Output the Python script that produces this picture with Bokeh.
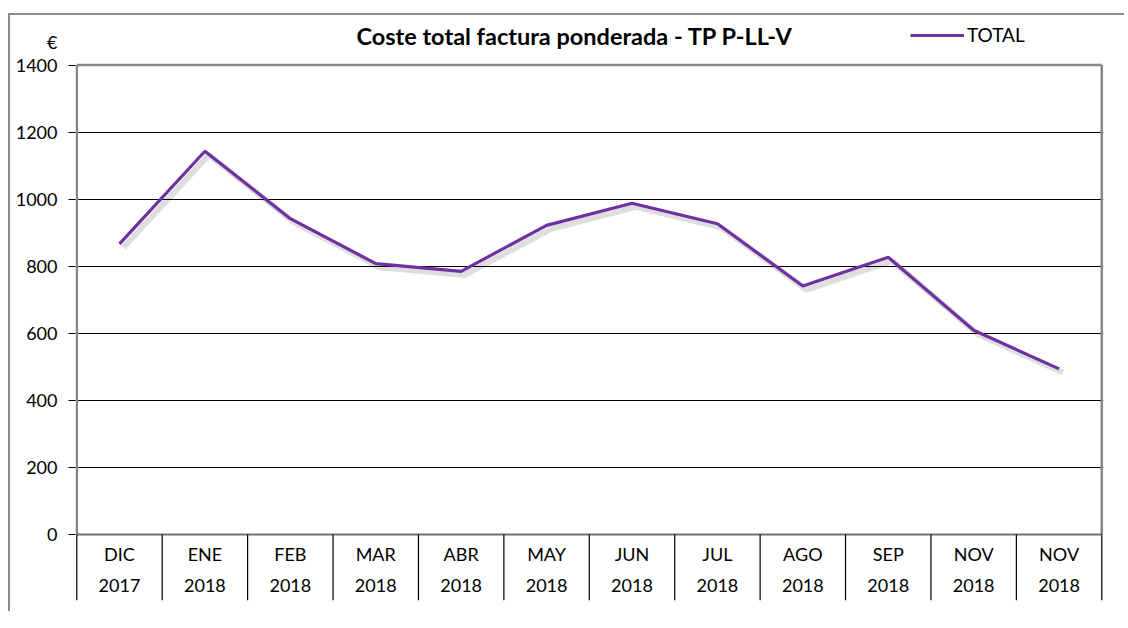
from bokeh.plotting import figure
from bokeh.models import (Range1d, FixedTicker, Label, Legend, LegendItem,
                          ColumnDataSource)
from bokeh.transform import dodge
from bokeh.core.properties import value
from bokeh.embed import file_html
from bokeh.resources import INLINE

# ---- data ----
months = ["DIC", "ENE", "FEB", "MAR", "ABR", "MAY", "JUN", "JUL", "AGO", "SEP", "NOV", "NOV"]
years = ["2017", "2018", "2018", "2018", "2018", "2018", "2018", "2018", "2018", "2018", "2018", "2018"]
total = [867, 1143, 942, 808, 785, 922, 988, 927, 741, 827, 609, 494]
y_ticks = [0, 200, 400, 600, 800, 1000, 1200, 1400]
title_text = "Coste total factura ponderada - TP P-LL-V"
series_name = "TOTAL"
unit_label = "€"

FONT = "Lato"
PURPLE = "#7030A0"
GRAY = "#868686"

n = len(months)
xs = [i + 0.5 for i in range(n)]
src = ColumnDataSource(dict(x=xs, total=total, month=months, year=years))

p = figure(width=1116, height=598, output_backend="svg", toolbar_location=None,
           x_range=Range1d(-0.015, n + 0.02), y_range=Range1d(-197, 1548),
           min_border_left=65, min_border_right=23, min_border_top=0,
           min_border_bottom=13, outline_line_color=None)
p.styles = {"margin-left": "8px", "margin-top": "13px",
            "border-left": "2px solid #8c8c8c", "border-top": "2px solid #8c8c8c"}

p.xaxis.visible = False
p.xgrid.visible = False

unit_pos = 1468
yax = p.yaxis[0]
yax.ticker = FixedTicker(ticks=y_ticks + [unit_pos], minor_ticks=y_ticks)
yax.major_label_overrides = {unit_pos: unit_label}
yax.axis_line_color = None
yax.major_tick_line_color = None
yax.major_tick_in = 0
yax.major_tick_out = 0
yax.minor_tick_in = 0
yax.minor_tick_out = 7
yax.minor_tick_line_color = "#000000"
yax.major_label_text_font = FONT
yax.major_label_text_font_size = "18px"
yax.major_label_text_color = "#000000"
yax.major_label_standoff = 11

p.ygrid.ticker = FixedTicker(ticks=y_ticks[1:-1])
p.ygrid.grid_line_color = "#000000"
p.ygrid.grid_line_width = 1

# frame borders and axis lines
top = y_ticks[-1]
p.segment(x0=[0], y0=[top], x1=[n], y1=[top], line_color=GRAY, line_width=2.5)
p.segment(x0=[n], y0=[0], x1=[n], y1=[top], line_color=GRAY, line_width=2.5)
p.segment(x0=[0], y0=[0], x1=[0], y1=[top], line_color=GRAY, line_width=2.5)
p.segment(x0=[0], y0=[0], x1=[n], y1=[0], line_color="#707070", line_width=2)

# category separators below the axis
bounds = list(range(n + 1))
p.segment(x0=bounds, y0=[0] * (n + 1), x1=bounds, y1=[-197] * (n + 1),
          line_color="#000000", line_width=1.2)

# category labels
p.text(x="x", y=-59, text="month", source=src, text_font=value(FONT),
       text_font_size="18px", text_align="center", text_baseline="middle",
       text_color="#000000")
p.text(x="x", y=-153, text="year", source=src, text_font=value(FONT),
       text_font_size="18px", text_align="center", text_baseline="middle",
       text_color="#000000")

# shadow + line
p.line(x=dodge("x", 0.045), y=dodge("total", -11), source=src,
       line_color="#000000", line_alpha=0.13, line_width=6)
r = p.line(x="x", y="total", source=src, line_color=PURPLE, line_width=3.2)

# title
p.add_layout(Label(x=5.83, y=1486, text=title_text, text_font=FONT,
                   text_font_size="23.5px", text_font_style="bold",
                   text_align="center", text_baseline="middle",
                   text_color="#000000"))

legend = Legend(items=[LegendItem(label=series_name, renderers=[r])],
                location=(835, 554), orientation="horizontal",
                glyph_width=54, glyph_height=20, label_standoff=3,
                label_height=20, padding=0, margin=0, border_line_color=None,
                background_fill_alpha=0, label_text_font=FONT,
                label_text_font_size="19px", label_text_color="#000000")
p.add_layout(legend, "center")

open("out.html", "w").write(file_html(p, INLINE))
